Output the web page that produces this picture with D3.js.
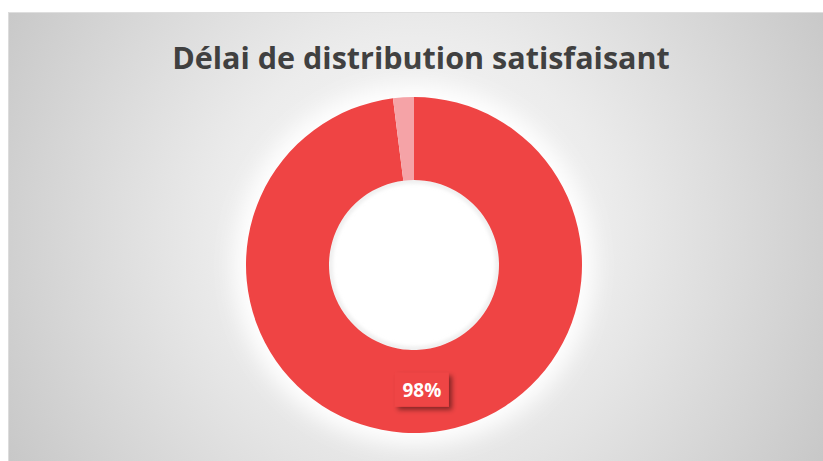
<!DOCTYPE html>
<html lang="fr">
<head>
<meta charset="UTF-8">
<title>Délai de distribution satisfaisant</title>
<script src="https://d3js.org/d3.v7.min.js"></script>
<style>
  body { margin: 0; background: #fff; }
  svg { display: block; }
</style>
</head>
<body>
<div id="chart"></div>
<script>
// data
const categories = ["Oui", "Non"];
const values = [98, 2];
const labels = ["98%", null];
const colors = ["#ef4444", "#f5a3a7"];
const title = "Délai de distribution satisfaisant";

const W = 823, H = 461;
const svg = d3.select("#chart").append("svg")
    .attr("width", W)
    .attr("height", H);

const defs = svg.append("defs");
const grad = defs.append("radialGradient")
    .attr("id", "bg")
    .attr("gradientUnits", "userSpaceOnUse")
    .attr("cx", 415).attr("cy", 230).attr("r", 480);
grad.append("stop").attr("offset", "0%").attr("stop-color", "#fbfbfb");
grad.append("stop").attr("offset", "40%").attr("stop-color", "#ececec");
grad.append("stop").attr("offset", "100%").attr("stop-color", "#c6c6c6");

const shadow = defs.append("filter").attr("id", "shadow")
    .attr("x", "-30%").attr("y", "-30%").attr("width", "170%").attr("height", "170%");
shadow.append("feDropShadow")
    .attr("dx", 3).attr("dy", 3).attr("stdDeviation", 2.5)
    .attr("flood-color", "#000").attr("flood-opacity", 0.45);

const glow = defs.append("filter").attr("id", "glow")
    .attr("x", "-50%").attr("y", "-50%").attr("width", "200%").attr("height", "200%");
glow.append("feGaussianBlur").attr("stdDeviation", 11);

const soft = defs.append("filter").attr("id", "soft")
    .attr("x", "-20%").attr("y", "-20%").attr("width", "140%").attr("height", "140%");
soft.append("feGaussianBlur").attr("stdDeviation", 2);

// chart area
svg.append("rect")
    .attr("x", 8).attr("y", 12)
    .attr("width", W - 8).attr("height", H - 12)
    .attr("fill", "url(#bg)");
svg.append("line")
    .attr("x1", 8).attr("x2", W).attr("y1", 12.5).attr("y2", 12.5)
    .attr("stroke", "#dedede");
svg.append("line")
    .attr("x1", 8.5).attr("x2", 8.5).attr("y1", 12).attr("y2", H)
    .attr("stroke", "#dcdcdc");

// title
const t = svg.append("text")
    .attr("x", 421).attr("y", 69)
    .attr("text-anchor", "middle")
    .attr("font-family", "'Open Sans', 'DejaVu Sans', sans-serif")
    .attr("font-weight", "bold")
    .attr("font-size", 30)
    .attr("fill", "#404040")
    .text(title);
const target = 498;
const len = t.node().getComputedTextLength();
t.attr("font-size", 30 * target / len);

// donut
const cx = 414, cy = 265, rOuter = 168, rInner = 85;
const pie = d3.pie().sort(null).value(d => d);
const arc = d3.arc().innerRadius(rInner).outerRadius(rOuter);
const arcs = pie(values);

const g = svg.append("g").attr("transform", `translate(${cx},${cy})`);

// white glow around the ring and white hole
g.append("circle")
    .attr("r", rOuter + 12)
    .attr("fill", "#ffffff")
    .attr("filter", "url(#glow)");
g.append("circle")
    .attr("r", rInner - 1)
    .attr("fill", "none")
    .attr("stroke", "#e2e2e2")
    .attr("stroke-width", 3)
    .attr("filter", "url(#soft)");

g.selectAll("path.slice")
    .data(arcs)
    .join("path")
    .attr("class", "slice")
    .attr("d", arc)
    .attr("fill", (d, i) => colors[i])
    .attr("stroke", "none");

// data labels
const labelArc = d3.arc().innerRadius(rOuter * 0.75).outerRadius(rOuter * 0.75);
arcs.forEach((d, i) => {
  if (!labels[i]) return;
  const [lx, ly] = labelArc.centroid(d);
  const lg = g.append("g").attr("transform", `translate(${lx},${ly - 1})`);
  lg.append("rect")
      .attr("x", -27).attr("y", -17)
      .attr("width", 54).attr("height", 34)
      .attr("fill", colors[i])
      .attr("filter", "url(#shadow)");
  lg.append("text")
      .attr("text-anchor", "middle")
      .attr("dy", "0.36em")
      .attr("font-family", "'Open Sans', 'DejaVu Sans', sans-serif")
      .attr("font-weight", "bold")
      .attr("font-size", 19)
      .attr("fill", "#ffffff")
      .text(labels[i]);
});
</script>
</body>
</html>
